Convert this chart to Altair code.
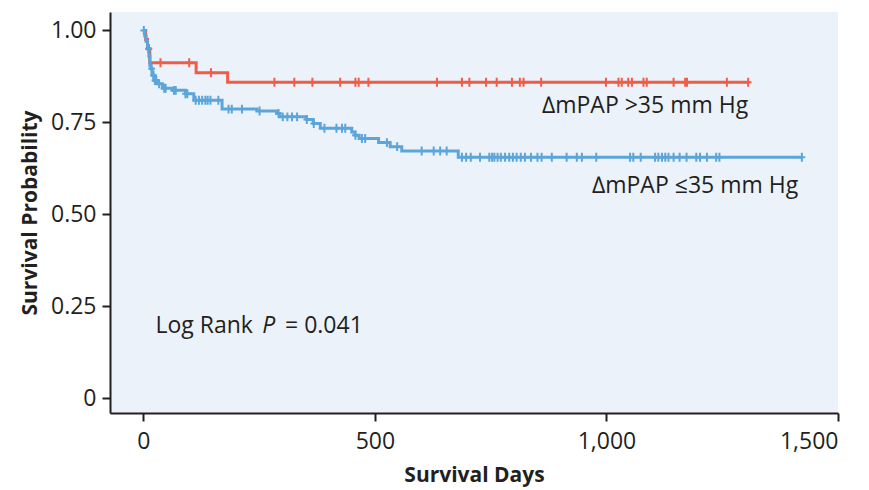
import altair as alt
import pandas as pd

# Kaplan-Meier step points (day, survival)
red_days = [0, 5, 9, 14, 114, 182, 1306]
red_surv = [1.0, 0.975, 0.95, 0.912, 0.885, 0.859, 0.859]

blue_days = [0, 3, 6, 9, 12, 14, 16, 19, 23, 30, 41, 62, 91, 109, 170, 245, 288, 294,
             352, 367, 382, 450, 457, 466, 508, 533, 558, 680, 1422]
blue_surv = [1.0, 0.985, 0.97, 0.95, 0.93, 0.905, 0.896, 0.878, 0.864, 0.855, 0.843, 0.837,
             0.828, 0.810, 0.786, 0.781, 0.774, 0.765, 0.758, 0.747, 0.734, 0.724, 0.715,
             0.706, 0.695, 0.684, 0.672, 0.655, 0.655]

# censored observations (days)
red_cens = [12, 37, 99, 146, 283, 326, 365, 425, 458, 465, 486, 634, 688, 704, 740, 763,
            796, 813, 821, 859, 999, 1026, 1033, 1047, 1055, 1080, 1087, 1145, 1170, 1174,
            1260, 1306]
blue_cens = [1, 11, 18, 22, 25, 28, 34, 45, 48, 66, 70, 91, 95, 113, 120, 127, 134, 139,
             145, 162, 184, 191, 213, 251, 292, 301, 311, 321, 332, 353, 368, 391, 417, 429,
             436, 458, 472, 479, 526, 548, 601, 627, 641, 655, 688, 697, 707, 727, 747, 753,
             758, 765, 772, 781, 790, 798, 806, 815, 824, 837, 851, 860, 882, 914, 936, 947,
             978, 1051, 1058, 1074, 1105, 1112, 1120, 1127, 1134, 1145, 1158, 1173, 1194,
             1202, 1217, 1237, 1244, 1422]

x_ticks = [0, 500, 1000, 1500]
y_ticks = [0, 0.25, 0.5, 0.75, 1.0]

RED = "#EF5D47"
BLUE = "#5CA5DB"
INK = "#231F20"
FONT = "Open Sans"
FS = 23


def surv_at(days, survs, d):
    s = survs[0]
    for dd, ss in zip(days, survs):
        if dd <= d:
            s = ss
    return s


red_df = pd.DataFrame({"day": red_days, "surv": red_surv})
blue_df = pd.DataFrame({"day": blue_days, "surv": blue_surv})
red_c = pd.DataFrame({"day": red_cens, "surv": [surv_at(red_days, red_surv, d) for d in red_cens]})
blue_c = pd.DataFrame({"day": blue_cens, "surv": [surv_at(blue_days, blue_surv, d) for d in blue_cens]})

xs = alt.Scale(domain=[-72, 1500], nice=False, zero=False)
ys = alt.Scale(domain=[-0.04, 1.05], nice=False, zero=False)

X = alt.X("day:Q", scale=xs, title="Survival Days",
          axis=alt.Axis(values=x_ticks, format=",d"))
Y = alt.Y("surv:Q", scale=ys, title="Survival Probability",
          axis=alt.Axis(values=y_ticks,
                        labelExpr="datum.value == 0 ? '0' : format(datum.value, '.2f')"))

cross = "M-0.75,0L0.75,0M0,-1L0,1"


def km(df, color):
    return alt.Chart(df).mark_line(interpolate="step-after", color=color, strokeWidth=3).encode(x=X, y=Y)


def cens(df, color):
    return alt.Chart(df).mark_point(shape=cross, size=80, color=color, strokeWidth=2,
                                    filled=False, opacity=1).encode(x=X, y=Y)


lab_df = pd.DataFrame({
    "day": [1306, 1414],
    "surv": [0.795, 0.577],
    "t": ["\u2206mPAP >35 mm Hg", "\u2206mPAP \u226435 mm Hg"],
})
labels = alt.Chart(lab_df).mark_text(align="right", baseline="middle", font=FONT,
                                     fontSize=FS, color=INK).encode(x=X, y=Y, text="t:N")

lr1 = alt.Chart(pd.DataFrame({"day": [26], "surv": [0.196], "t": ["Log Rank"]})).mark_text(
    align="left", baseline="middle", font=FONT, fontSize=FS, color=INK).encode(x=X, y=Y, text="t:N")
lr2 = alt.Chart(pd.DataFrame({"day": [257], "surv": [0.196], "t": ["P"]})).mark_text(
    align="left", baseline="middle", font=FONT, fontSize=FS, fontStyle="italic", color=INK).encode(x=X, y=Y, text="t:N")
lr3 = alt.Chart(pd.DataFrame({"day": [306], "surv": [0.196], "t": ["= 0.041"]})).mark_text(
    align="left", baseline="middle", font=FONT, fontSize=FS, color=INK).encode(x=X, y=Y, text="t:N")

chart = alt.layer(
    km(red_df, RED), km(blue_df, BLUE), cens(red_c, RED), cens(blue_c, BLUE),
    labels, lr1, lr2, lr3
).properties(
    width=728, height=401,
    autosize=alt.AutoSizeParams(type="none"),
    padding={"left": 102, "top": 4, "right": 20, "bottom": 76},
).configure_view(
    stroke=None, fill="#EBF2FA"
).configure_axis(
    grid=False, domainColor=INK, domainWidth=2, tickColor=INK, tickWidth=2, tickSize=8,
    labelFont=FONT, labelFontSize=FS, labelColor=INK, labelPadding=6,
    titleFont=FONT, titleFontSize=21, titleFontWeight="bold", titleColor=INK,
).configure_axisX(labelPadding=9, titlePadding=11).configure_axisY(titlePadding=10)

chart.save("out.html", embed_options={"renderer": "svg", "actions": False})
